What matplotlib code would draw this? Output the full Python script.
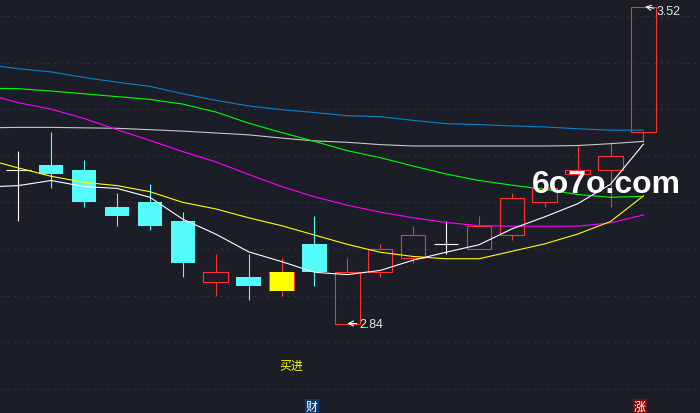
import matplotlib
matplotlib.use("Agg")
import matplotlib.pyplot as plt
from matplotlib.patches import Rectangle

# daily candles, index 0..19
opens = [3.17, 3.18, 3.17, 3.09, 3.10, 3.06, 2.93, 2.94, 2.91, 3.01,
         2.84, 2.95, 2.98, 3.01, 3.00, 3.03, 3.10, 3.16, 3.17, 3.25]
highs = [3.21, 3.25, 3.19, 3.12, 3.14, 3.08, 2.99, 2.99, 2.98, 3.07,
         2.98, 3.01, 3.05, 3.06, 3.07, 3.12, 3.15, 3.22, 3.23, 3.52]
lows = [3.06, 3.13, 3.09, 3.05, 3.04, 2.94, 2.90, 2.89, 2.90, 2.92,
        2.84, 2.94, 2.97, 2.99, 3.00, 3.02, 3.09, 3.14, 3.09, 3.23]
closes = [3.17, 3.16, 3.10, 3.07, 3.05, 2.97, 2.95, 2.92, 2.95, 2.95,
          2.95, 3.00, 3.03, 3.01, 3.05, 3.11, 3.13, 3.17, 3.20, 3.52]
signal_day = 8  # highlighted candle ("买进")

# moving average lines, index -1..19 (first value is the day before the view)
ma_x = list(range(-1, 20))
ma_white = [3.133, 3.136, 3.147, 3.134, 3.130, 3.111, 3.064, 3.032, 2.994, 2.973, 2.950,
            2.945, 2.954, 2.976, 2.993, 3.009, 3.043, 3.069, 3.097, 3.139, 3.225]
ma_yellow = [3.193, 3.174, 3.156, 3.143, 3.136, 3.123, 3.100, 3.086, 3.067, 3.050, 3.030,
             3.010, 2.993, 2.984, 2.979, 2.979, 2.995, 3.011, 3.032, 3.059, 3.114]
ma_magenta = [3.333, 3.314, 3.300, 3.280, 3.256, 3.233, 3.209, 3.187, 3.160, 3.134, 3.112,
              3.094, 3.079, 3.067, 3.057, 3.050, 3.049, 3.049, 3.049, 3.056, 3.073]
ma_green = [3.345, 3.344, 3.339, 3.333, 3.327, 3.321, 3.311, 3.294, 3.270, 3.250, 3.231,
            3.211, 3.196, 3.178, 3.161, 3.147, 3.137, 3.128, 3.117, 3.111, 3.113]
ma_gray = [3.260, 3.261, 3.261, 3.260, 3.259, 3.256, 3.253, 3.249, 3.245, 3.238, 3.232,
           3.229, 3.224, 3.221, 3.221, 3.221, 3.221, 3.221, 3.222, 3.226, 3.231]
ma_blue = [3.396, 3.387, 3.380, 3.368, 3.358, 3.349, 3.333, 3.319, 3.307, 3.299, 3.293,
           3.286, 3.284, 3.276, 3.269, 3.267, 3.264, 3.262, 3.258, 3.255, 3.255]

grid_levels = [2.7, 2.8, 2.9, 3.0, 3.1, 3.2, 3.3, 3.4, 3.5]

BG = '#1b1e26'
RED = '#ff3232'
CYAN = '#54fcfc'
LW = 0.8

fig = plt.figure(figsize=(7, 4.14), dpi=100, facecolor=BG)
ax = fig.add_axes([0, 0, 1, 1], facecolor=BG)
ax.set_xlim(-0.556, 20.72)
ax.set_ylim(2.648, 3.5365)
ax.axis('off')

for g in grid_levels:
    ax.axhline(g, color='#2e323b', lw=LW, ls=(0, (2, 4)), zorder=0)

w = 0.745
for i, (o, h, l, c) in enumerate(zip(opens, highs, lows, closes)):
    top, bot = max(o, c), min(o, c)
    if o == c:
        col = 'white'
        ax.vlines(i, l, h, color=col, lw=LW, zorder=2)
        ax.hlines(o, i - w / 2, i + w / 2, color=col, lw=LW, zorder=2)
    elif c > o:
        ax.vlines(i, top, h, color=RED, lw=LW, zorder=2)
        ax.vlines(i, l, bot, color=RED, lw=LW, zorder=2)
        if i == signal_day:
            ax.add_patch(Rectangle((i - w / 2, bot), w, top - bot, facecolor='#ffff00',
                                   edgecolor='none', zorder=2))
            ax.vlines([i - w / 2, i + w / 2], bot, top, color=RED, lw=LW, zorder=3)
        else:
            ax.add_patch(Rectangle((i - w / 2, bot), w, top - bot, facecolor='none',
                                   edgecolor=RED, lw=LW, zorder=2))
    else:
        ax.vlines(i, l, h, color=CYAN, lw=LW, zorder=2)
        ax.add_patch(Rectangle((i - w / 2, bot), w, top - bot, facecolor=CYAN,
                               edgecolor='none', zorder=2))

for ys, col in [(ma_blue, '#0a82c8'), (ma_gray, '#c8c8c8'), (ma_green, '#00ff00'),
                (ma_magenta, '#ff00ff'), (ma_yellow, '#ffff00'), (ma_white, '#ffffff')]:
    ax.plot(ma_x, ys, color=col, lw=LW, zorder=4)

# extreme labels
lo_i = lows.index(min(lows))
hi_i = highs.index(max(highs))
ax.annotate('%.2f' % lows[lo_i], xy=(lo_i, lows[lo_i]), xytext=(lo_i + 0.37, lows[lo_i]),
            color='#dce8f4', fontsize=8.9, family='Liberation Sans', va='center',
            arrowprops=dict(arrowstyle='->', color='white', lw=LW, shrinkA=0, shrinkB=0),
            zorder=6)
ax.annotate('%.2f' % highs[hi_i], xy=(hi_i + 0.05, highs[hi_i]),
            xytext=(hi_i + 0.4, highs[hi_i] - 0.009),
            color='#dce8f4', fontsize=8.9, family='Liberation Sans', va='center',
            arrowprops=dict(arrowstyle='->', color='white', lw=LW, shrinkA=0, shrinkB=0),
            zorder=6)

# watermark
fig.text(606 / 700, 1 - 185 / 414, '6o7o.com', color='white', fontsize=23,
         family='Liberation Sans', weight='bold', ha='center', va='center', zorder=10)

# signal / bottom markers
fig.text(291 / 700, 1 - 366 / 414, '买进', color='#ffff00', fontsize=8.6,
         family=['Noto Sans CJK SC', 'DejaVu Sans'], ha='center', va='center')
fig.text(312 / 700, 1 - 407.5 / 414, '财', color='white', fontsize=8.6,
         family=['Noto Sans CJK SC', 'DejaVu Sans'], ha='center', va='center',
         bbox=dict(boxstyle='square,pad=0.05', facecolor='#0a3d70', edgecolor='none'))
fig.text(640 / 700, 1 - 407.5 / 414, '涨', color='white', fontsize=8.6,
         family=['Noto Sans CJK SC', 'DejaVu Sans'], ha='center', va='center',
         bbox=dict(boxstyle='square,pad=0.05', facecolor='#8c0a0a', edgecolor='none'))

fig.savefig('out.png', dpi=100, facecolor=BG)
plt.close(fig)
